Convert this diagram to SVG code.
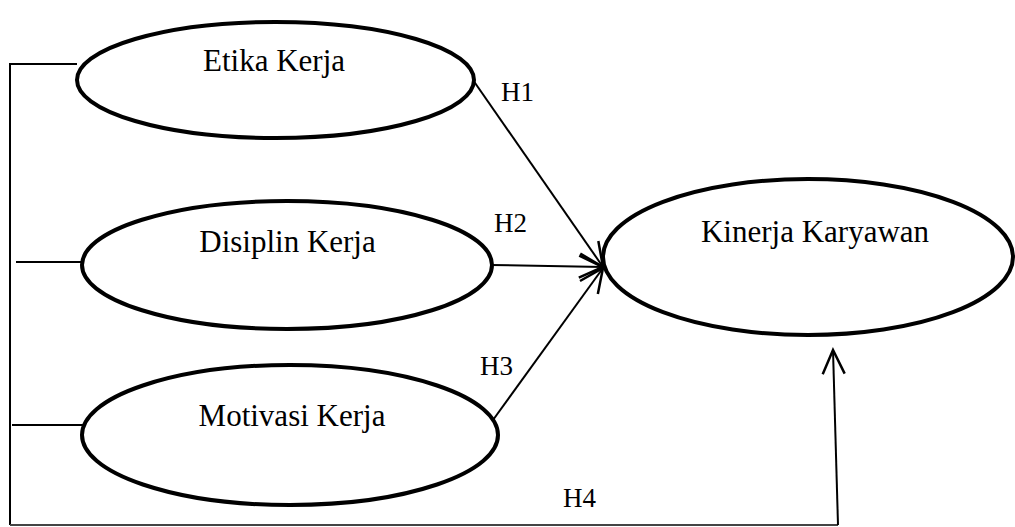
<svg xmlns="http://www.w3.org/2000/svg" width="1015" height="527" viewBox="0 0 1015 527">
<style>
.node{fill:#fff;stroke:#000;stroke-width:4}
.lbl{font-family:"Liberation Serif","Times New Roman",serif;font-size:31px;fill:#000;text-anchor:middle}
.h{font-family:"Liberation Serif","Times New Roman",serif;font-size:27px;fill:#000}
.c{fill:none;stroke:#000;stroke-width:2}
.g{fill:none;stroke:#444;stroke-width:2}
</style>
<defs>
<marker id="arr" markerUnits="userSpaceOnUse" markerWidth="30" markerHeight="30" viewBox="-26 -13 30 26" refX="0" refY="0" orient="auto">
<polyline points="-24,-11 0,0 -24,11" fill="none" stroke="#000" stroke-width="2.5"/>
</marker>
</defs>
<rect width="1015" height="527" fill="#fff"/>
<g id="connectors">
<polyline class="c" points="77,64 10,64 10,525"/>
<line class="c" x1="16" y1="262" x2="82" y2="262"/>
<line class="c" x1="12" y1="425" x2="83" y2="425"/>
<line class="g" x1="10" y1="525" x2="838" y2="525"/>
<line class="c" x1="838" y1="525" x2="833" y2="350" marker-end="url(#arr)"/>
<line class="c" x1="473" y1="80" x2="603" y2="267" marker-end="url(#arr)"/>
<line class="c" x1="491" y1="265" x2="603" y2="267" marker-end="url(#arr)"/>
<line class="c" x1="493" y1="420" x2="603" y2="268" marker-end="url(#arr)"/>
<text class="h" x="501" y="101">H1</text>
<text class="h" x="494" y="232">H2</text>
<text class="h" x="480" y="375">H3</text>
<text class="h" x="563" y="507">H4</text>
</g>
<g id="etika">
<ellipse class="node" cx="275.5" cy="80" rx="198.5" ry="58"/>
<text class="lbl" x="274" y="71">Etika Kerja</text>
</g>
<g id="disiplin">
<ellipse class="node" cx="287" cy="265" rx="205" ry="64"/>
<text class="lbl" x="287.5" y="252">Disiplin Kerja</text>
</g>
<g id="motivasi">
<ellipse class="node" cx="290" cy="435" rx="208" ry="70"/>
<text class="lbl" x="292" y="426">Motivasi Kerja</text>
</g>
<g id="kinerja">
<ellipse class="node" cx="808" cy="257" rx="205" ry="78"/>
<text class="lbl" x="815" y="242">Kinerja Karyawan</text>
</g>
</svg>
